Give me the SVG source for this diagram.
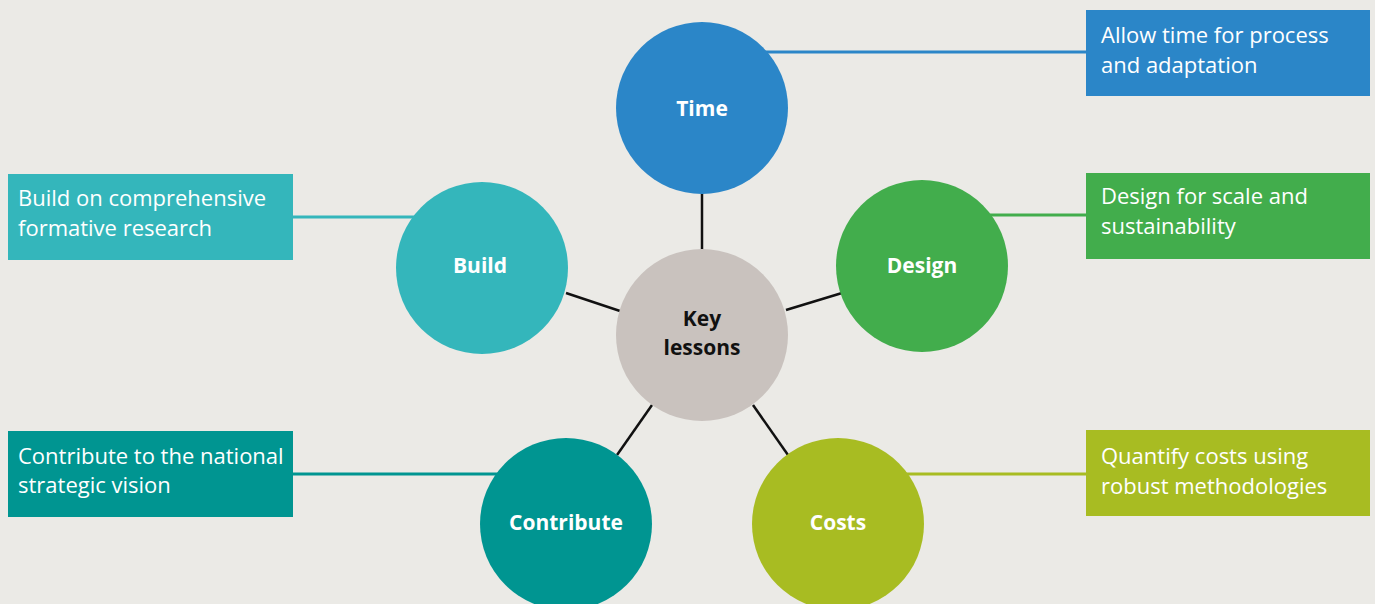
<svg xmlns="http://www.w3.org/2000/svg" width="1375" height="604" viewBox="0 0 1375 604">
<style>
.bg{fill:#ebeae6}
.lbl{font-family:"Open Sans","Liberation Sans",sans-serif;font-weight:bold;font-size:21px;fill:#fff;text-anchor:middle}
.box{font-family:"Open Sans","Liberation Sans",sans-serif;font-size:22px;fill:#fff}
.k{stroke:#111;stroke-width:2.5;fill:none}
.c{stroke-width:3;fill:none}
</style>
<rect class="bg" x="0" y="0" width="1375" height="604"/>
<g id="connectors">
<line class="k" x1="702" y1="193" x2="702" y2="250"/>
<line class="k" x1="566" y1="293" x2="620" y2="311"/>
<line class="k" x1="786" y1="310" x2="842" y2="293"/>
<line class="k" x1="617" y1="455" x2="652" y2="405"/>
<line class="k" x1="753" y1="405" x2="788" y2="455"/>
<line class="c" stroke="#2b86c8" x1="760" y1="52" x2="1086" y2="52"/>
<line class="c" stroke="#42ad4c" x1="990" y1="215" x2="1086" y2="215"/>
<line class="c" stroke="#a8bc22" x1="900" y1="474" x2="1086" y2="474"/>
<line class="c" stroke="#34b6bb" x1="293" y1="217" x2="420" y2="217"/>
<line class="c" stroke="#009591" x1="293" y1="474" x2="500" y2="474"/>
</g>
<g id="key">
<circle cx="702" cy="335" r="86" fill="#c9c2be"/>
<text class="lbl" x="702" y="326" style="fill:#111">Key</text>
<text class="lbl" x="702" y="355" style="fill:#111">lessons</text>
</g>
<g id="time">
<circle cx="702" cy="108" r="86" fill="#2b86c8"/>
<text class="lbl" x="702" y="116">Time</text>
</g>
<g id="build">
<circle cx="482" cy="268" r="86" fill="#34b6bb"/>
<text class="lbl" x="480" y="273">Build</text>
</g>
<g id="design">
<circle cx="922" cy="266" r="86" fill="#42ad4c"/>
<text class="lbl" x="922" y="273">Design</text>
</g>
<g id="contribute">
<circle cx="566" cy="524" r="86" fill="#009591"/>
<text class="lbl" x="566" y="530">Contribute</text>
</g>
<g id="costs">
<circle cx="838" cy="524" r="86" fill="#a8bc22"/>
<text class="lbl" x="838" y="530">Costs</text>
</g>
<g id="box-time">
<rect x="1086" y="10" width="284" height="86" fill="#2b86c8"/>
<text class="box" x="1101" y="43">Allow time for process</text>
<text class="box" x="1101" y="73">and adaptation</text>
</g>
<g id="box-design">
<rect x="1086" y="173" width="284" height="86" fill="#42ad4c"/>
<text class="box" x="1101" y="204">Design for scale and</text>
<text class="box" x="1101" y="234">sustainability</text>
</g>
<g id="box-costs">
<rect x="1086" y="430" width="284" height="86" fill="#a8bc22"/>
<text class="box" x="1101" y="464">Quantify costs using</text>
<text class="box" x="1101" y="494">robust methodologies</text>
</g>
<g id="box-build">
<rect x="8" y="174" width="285" height="86" fill="#34b6bb"/>
<text class="box" x="18" y="206">Build on comprehensive</text>
<text class="box" x="18" y="236">formative research</text>
</g>
<g id="box-contribute">
<rect x="8" y="431" width="285" height="86" fill="#009591"/>
<text class="box" x="18" y="464">Contribute to the national</text>
<text class="box" x="18" y="493">strategic vision</text>
</g>
</svg>
